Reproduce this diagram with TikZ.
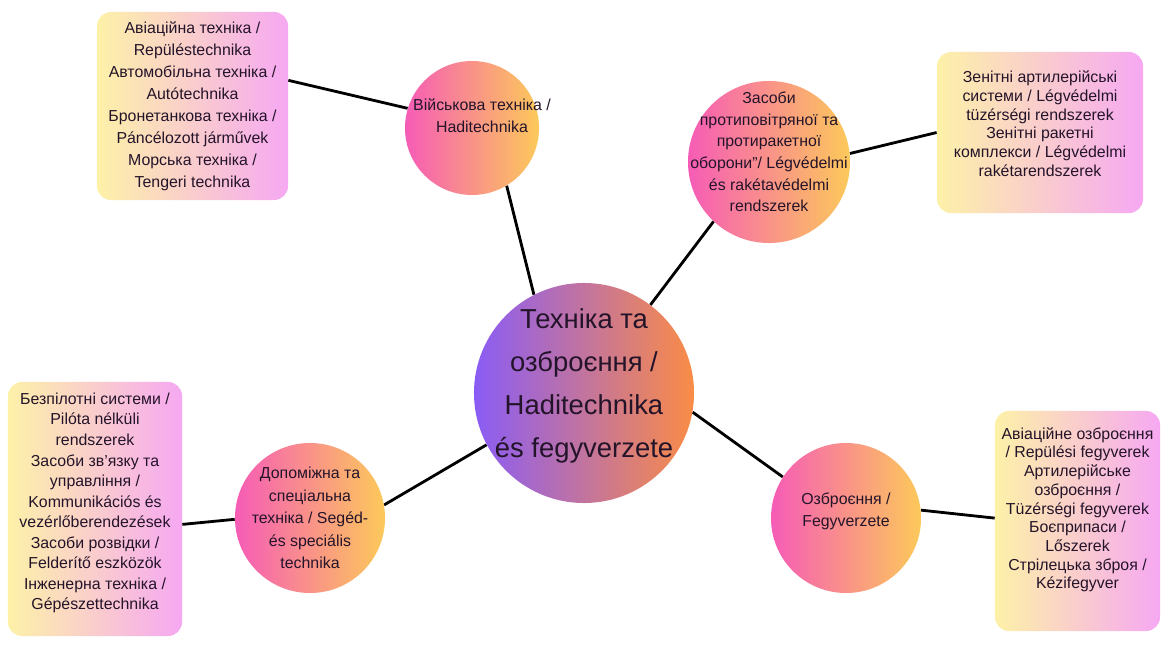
\documentclass[tikz,border=0pt]{standalone}
\usepackage{fontspec}
\setmainfont{Liberation Sans}
\usetikzlibrary{backgrounds}
\definecolor{ink}{HTML}{24142A}
\definecolor{boxl}{HTML}{FDF1A8}
\definecolor{boxr}{HTML}{F6A8F2}
\definecolor{circl}{HTML}{F65CB6}
\definecolor{circr}{HTML}{FCC95A}
\definecolor{hubl}{HTML}{8A5CF6}
\definecolor{hubr}{HTML}{FA8C46}
\begin{document}
\begin{tikzpicture}[x=0.025cm,y=-0.025cm,
	every node/.style={text=ink,align=center},
	listbox/.style={rectangle,rounded corners=0.35cm,left color=boxl,right color=boxr,inner sep=0pt},
	topic/.style={circle,left color=circl,right color=circr,inner sep=0pt},
	link/.style={line width=2pt,black}]
	\useasboundingbox (0,0) rectangle (1162,650);
	% central topic
	\node[circle,left color=hubl,right color=hubr,inner sep=0pt,minimum size=5.5cm,
		label={[yshift=0.17cm,font=\fontsize{19.5}{30.5}\selectfont]center:{Техніка та\\озброєння /\\Haditechnika\\és fegyverzete}}] (hub) at (584,393) {};
	% topics
	\node[topic,minimum size=3.35cm,
		label={[xshift=0.25cm,yshift=0.3cm,font=\fontsize{11.3}{15.6}\selectfont]center:{Військова техніка /\\Haditechnika}}] (mil) at (472,128) {};
	\node[topic,minimum size=4.05cm,
		label={[yshift=0.25cm,font=\fontsize{11.3}{15.4}\selectfont]center:{Засоби\\протиповітряної та\\протиракетної\\оборони"/ Légvédelmi\\és rakétavédelmi\\rendszerek}}] (air) at (769,162) {};
	\node[topic,minimum size=3.75cm,
		label={[font=\fontsize{11.3}{16}\selectfont]center:{Допоміжна та\\спеціальна\\техніка / Segéd-\\és speciális\\technika}}] (aux) at (310,518) {};
	\node[topic,minimum size=3.75cm,
		label={[yshift=0.17cm,font=\fontsize{11.3}{15.6}\selectfont]center:{Озброєння /\\Fegyverzete}}] (arm) at (846,518) {};
	% lists
	\node[listbox,minimum width=4.775cm,minimum height=4.7cm,
		label={[font=\fontsize{11.3}{15.6}\selectfont]center:{Авіаційна техніка /\\Repüléstechnika\\Автомобільна техніка /\\Autótechnika\\Бронетанкова техніка /\\Páncélozott járművek\\Морська техніка /\\Tengeri technika}}] (tlbox) at (192.5,106) {};
	\node[listbox,minimum width=5.15cm,minimum height=4.025cm,
		label={[yshift=0.22cm,font=\fontsize{11.3}{13.3}\selectfont]center:{Зенітні артилерійські\\системи / Légvédelmi\\tüzérségi rendszerek\\Зенітні ракетні\\комплекси / Légvédelmi\\rakétarendszerek}}] (trbox) at (1040,132.5) {};
	\node[listbox,minimum width=4.35cm,minimum height=6.35cm,
		label={[yshift=0.15cm,font=\fontsize{11.3}{14.6}\selectfont]center:{Безпілотні системи /\\Pilóta nélküli\\rendszerek\\Засоби зв'язку та\\управління /\\Kommunikációs és\\vezérlőberendezések\\Засоби розвідки /\\Felderítő eszközök\\Інженерна техніка /\\Gépészettechnika}}] (blbox) at (95,509) {};
	\node[listbox,minimum width=4.125cm,minimum height=5.5cm,
		label={[yshift=0.28cm,font=\fontsize{11.3}{13.3}\selectfont]center:{Авіаційне озброєння\\/ Repülési fegyverek\\Артилерійське\\озброєння /\\Tüzérségi fegyverek\\Боєприпаси /\\Lőszerek\\Стрілецька зброя /\\Kézifegyver}}] (brbox) at (1077.5,521) {};
	% links
	\begin{pgfonlayer}{background}
	\draw[link] (tlbox.15) -- (mil.163);
	\draw[link] (mil.301) -- (hub.117);
	\draw[link] (air.227) -- (hub.53);
	\draw[link] (air.6) -- (trbox.west);
	\draw[link] (hub.208) -- (aux.10);
	\draw[link] (aux.181) -- (blbox.350);
	\draw[link] (hub.350) -- (arm.147);
	\draw[link] (arm.6) -- (brbox.178);
	\end{pgfonlayer}
\end{tikzpicture}
\end{document}
